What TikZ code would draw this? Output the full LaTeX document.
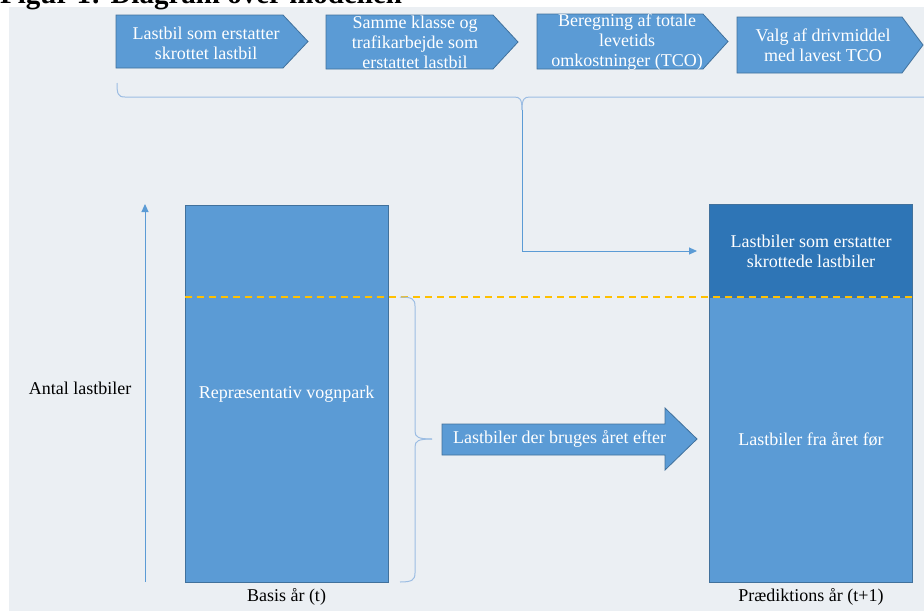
\documentclass[tikz,border=0pt]{standalone}
\usepackage{fontspec}
\setmainfont{Liberation Serif}
\usetikzlibrary{arrows.meta}
\definecolor{bgc}{HTML}{EBEFF3}
\definecolor{boxc}{HTML}{5B9BD5}
\definecolor{edgec}{HTML}{41719C}
\definecolor{darkc}{HTML}{2E75B6}
\definecolor{gold}{HTML}{FFC000}
\definecolor{bracec}{HTML}{9CBDE3}
\definecolor{linec}{HTML}{5B9BD5}
\tikzset{
  chev/.style={fill=boxc,draw=edgec,line width=0.8pt},
  bar/.style={fill=boxc,draw=edgec,line width=0.8pt},
  wtxt/.style={text=white,font=\fontsize{18}{20}\selectfont,align=center,inner sep=0pt},
  btxt/.style={text=black,font=\fontsize{18}{20}\selectfont,align=center,inner sep=0pt},
  bracel/.style={draw=bracec,line width=1pt},
  conn/.style={draw=linec,line width=1pt,-{Triangle[length=8pt,width=7pt]}},
}
\begin{document}
\begin{tikzpicture}[x=1pt,y=-1pt]
\useasboundingbox (0,0) rectangle (924,611);
\clip (0,0) rectangle (924,611);
\fill[white] (0,0) rectangle (924,611);
\fill[bgc] (9,7) rectangle (924,611);
% title (cut off at top, as in the reference)
\node[anchor=base west,inner sep=0pt,font=\bfseries\fontsize{29}{32}\selectfont] (title) at (0,3) {Figur 1: Diagram over modellen};
% chevrons
\draw[chev] (116,15) -- (283,15) -- (308,41.5) -- (283,68) -- (116,68) -- cycle;
\node[wtxt] (c1) at (206,43) {Lastbil som erstatter\\skrottet lastbil};
\draw[chev] (326,15) -- (493,15) -- (518,42) -- (493,69) -- (326,69) -- cycle;
\node[wtxt] (c2) at (415,42.5) {Samme klasse og\\trafikarbejde som\\erstattet lastbil};
\draw[chev] (537,14) -- (703,14) -- (728,41.5) -- (703,69) -- (537,69) -- cycle;
\node[wtxt] (c3) at (627,42.5) {Beregning af totale\\levetids\\omkostninger (TCO)};
\draw[chev] (737,17) -- (902,17) -- (923,45) -- (902,73) -- (737,73) -- cycle;
\node[wtxt] (c4) at (823,45) {Valg af drivmiddel\\med lavest TCO};
% top brace
\draw[bracel] (117,83) .. controls (117,94) and (118,97) .. (125,97) -- (514,97) .. controls (520,97) and (522,99) .. (522,110);
\draw[bracel] (924,97) -- (530,97) .. controls (524,97) and (522,99) .. (522,110);
\coordinate (btip) at (522,110);
% bars
\draw[bar] (185,205) rectangle (388,582);
\node[wtxt] (rep) at (286.5,394) {Repræsentativ vognpark};
\node[btxt] (basis) at (286.5,597) {Basis år (t)};
\draw[bar] (709,297) rectangle (912,582);
\node[wtxt] (fra) at (811,439) {Lastbiler fra året før};
\node[draw=edgec,line width=0.8pt,fill=darkc,minimum width=203pt,minimum height=93pt,inner sep=0pt,anchor=north west] (dark) at (709,204) {};
\node[wtxt] (darktxt) at (811,251) {Lastbiler som erstatter\\skrottede lastbiler};
\node[btxt] (pred) at (811,597) {Prædiktions år (t+1)};
% dashed line
\draw[gold,line width=1.5pt,dash pattern=on 7pt off 5pt] (185,297) -- (912,297);
% y axis
\coordinate (ybot) at (145,582);
\coordinate (ytop) at (145,204);
\draw[conn] (ybot) -- (ytop);
\node[btxt] (antal) at (80,388) {Antal lastbiler};
% L connector
\coordinate (lend) at (697,251);
\draw[conn] (btip) |- (lend);
% right brace
\draw[bracel] (400,297) .. controls (412,297) and (415,299) .. (415,306) -- (415,431) .. controls (415,437) and (418,439) .. (432,439);
\draw[bracel] (400,582) .. controls (412,582) and (415,580) .. (415,573) -- (415,447) .. controls (415,441) and (418,439) .. (432,439);
% big arrow
\draw[chev] (442,424) -- (665,424) -- (665,408) -- (697,439) -- (665,470) -- (665,455) -- (442,455) -- cycle;
\node[wtxt,anchor=west] (bruges) at (453,439) {Lastbiler der bruges året efter};
\end{tikzpicture}
\end{document}
